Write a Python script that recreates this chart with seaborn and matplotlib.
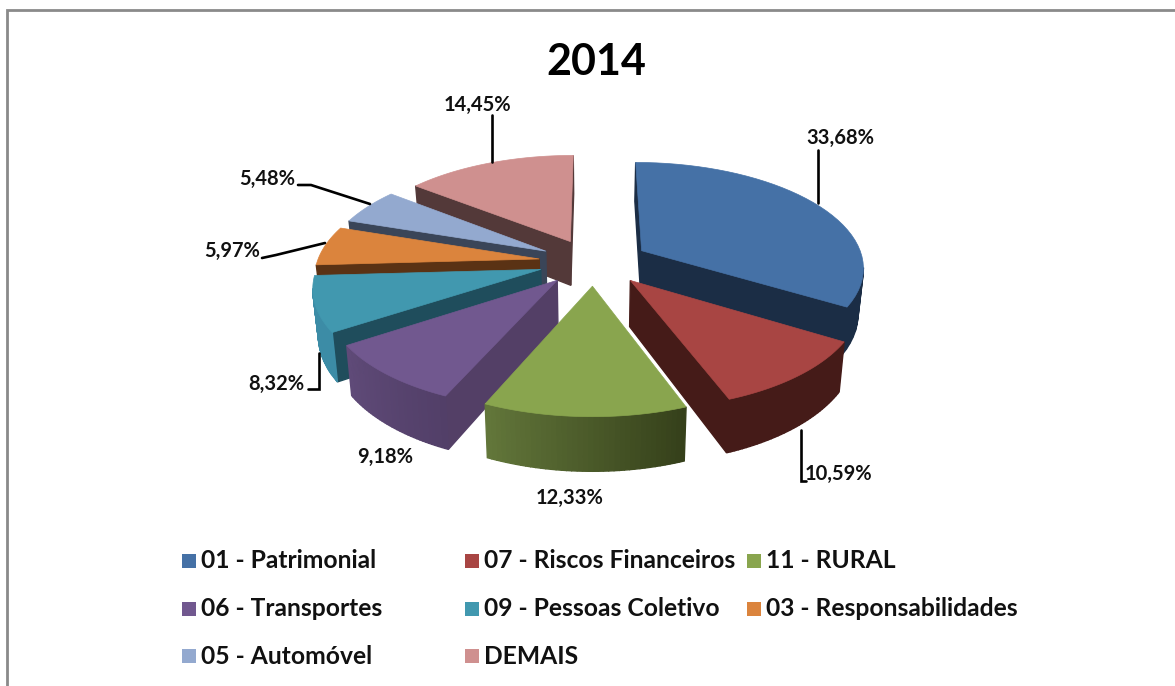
# -*- coding: utf-8 -*-

import numpy as np
import matplotlib
matplotlib.use("Agg")
import matplotlib.pyplot as plt
from matplotlib.colors import to_rgb
import seaborn as sns

categories = ['01 - Patrimonial', '07 - Riscos Financeiros', '11 - RURAL',
              '06 - Transportes', '09 - Pessoas Coletivo', '03 - Responsabilidades',
              '05 - Automóvel', 'DEMAIS']
shares = [33.68, 10.59, 12.33, 9.18, 8.32, 5.97, 5.48, 14.45]
title = '2014'

top_colors = sns.color_palette(['#4571A6', '#A84543', '#89A54E', '#71588F',
                                '#4198AF', '#DB843D', '#93A9CF', '#CF908F'])
radial_colors = ['#1B2D45', '#451B18', '#4A5A28', '#533F66',
                 '#1F4D5C', '#5A3214', '#3A4558', '#533939']
arc_light = ['#1B2D45', '#451B18', '#62763A', '#5F4A78',
             '#3C8CA6', '#8A5020', '#5A6A85', '#7A5050']
arc_dark = ['#1B2D45', '#451B18', '#35401A', '#523F68',
            '#3C8CA6', '#8A5020', '#5A6A85', '#7A5050']

# back to front
draw_order = [7, 0, 6, 5, 4, 3, 2, 1]

# perspective settings of the pie
cx, cy = 594, 262
rx, ry = 222, 104
persp = 0.144
explode_x = 0.25
explode_z = 0.225
depth = 45

sns.set_theme(style='white')
plt.rcParams['font.family'] = ['Lato', 'DejaVu Sans']

fig = plt.figure(figsize=(11.75, 6.86), dpi=100)
ax = fig.add_axes([0, 0, 1, 1])
ax.set_xlim(0, 1175)
ax.set_ylim(686, 0)
ax.axis('off')


def project(X, Z):
    s = 1 / (1 - persp * Z)
    return cx + rx * X * s, cy + ry * Z * s, s


def lerp(a, b, t):
    a, b = np.array(to_rgb(a)), np.array(to_rgb(b))
    return tuple(a + (b - a) * t)


def wall(p, q, color, zorder):
    # side face under the edge p -> q, only if it faces the viewer
    if q[0] >= p[0]:
        return
    shrink = 0.98
    xs = [p[0], q[0], cx + (q[0] - cx) * shrink, cx + (p[0] - cx) * shrink]
    ys = [p[1], q[1], q[1] + depth * q[2], p[1] + depth * p[2]]
    ax.fill(xs, ys, color=color, lw=1.0, zorder=zorder)


edges = np.cumsum([0] + shares) / sum(shares) * 2 * np.pi

for z, i in enumerate(draw_order):
    a0, a1 = edges[i], edges[i + 1]
    mid = (a0 + a1) / 2
    ox, oz = explode_x * np.sin(mid), -explode_z * np.cos(mid)
    theta = np.linspace(a0, a1, 40)
    apex = project(ox, oz)
    rim = [project(ox + np.sin(t), oz - np.cos(t)) for t in theta]
    zo = 10 + z * 2
    wall(apex, rim[0], radial_colors[i], zo)
    wall(rim[-1], apex, radial_colors[i], zo)
    for k in range(len(rim) - 1):
        wall(rim[k], rim[k + 1], lerp(arc_dark[i], arc_light[i], k / (len(rim) - 2)), zo)
    ax.fill([apex[0]] + [r[0] for r in rim], [apex[1]] + [r[1] for r in rim],
            color=top_colors[i], lw=0.5, zorder=zo + 1)

# leader lines
leaders = [([818, 818], [150, 203]),
           ([801, 801, 806], [430, 481, 481]),
           ([298, 311, 370], [185, 185, 204]),
           ([262, 276, 325], [258, 255, 243]),
           ([308, 319, 319], [389, 389, 353]),
           ([492, 492], [115, 162])]
for lx, ly in leaders:
    ax.plot(lx, ly, color='black', lw=1.9, zorder=40, solid_joinstyle='miter')

# data labels, same order as shares
label_pos = [(840, 138), (838, 474), (570, 498), (385, 457),
             (276, 384), (232, 251), (267, 179), (477, 105)]
for v, (lx, ly) in zip(shares, label_pos):
    ax.text(lx, ly, f'{v:.2f}%'.replace('.', ','), ha='center', va='center',
            fontsize=14.5, fontweight='bold', color='#111111', zorder=50)

ax.text(596, 62, title, ha='center', va='center', fontsize=31,
        fontweight='bold', color='black')

# legend, filled row by row
col_x = [182, 465, 747]
row_y = [561, 609, 656]
for n, name in enumerate(categories):
    x = col_x[n % 3]
    y = row_y[n // 3]
    ax.fill([x, x + 14, x + 14, x], [y - 7, y - 7, y + 7, y + 7],
            color=top_colors[n], lw=0)
    ax.text(x + 19, y, name, ha='left', va='center', fontsize=17.7,
            fontweight='bold', color='#111111')

# frame of the chart area
ax.plot([6.5, 6.5, 1175], [686, 10, 10], color='#8A8A8A', lw=2, solid_joinstyle='miter')

fig.savefig('out.png', dpi=100)
